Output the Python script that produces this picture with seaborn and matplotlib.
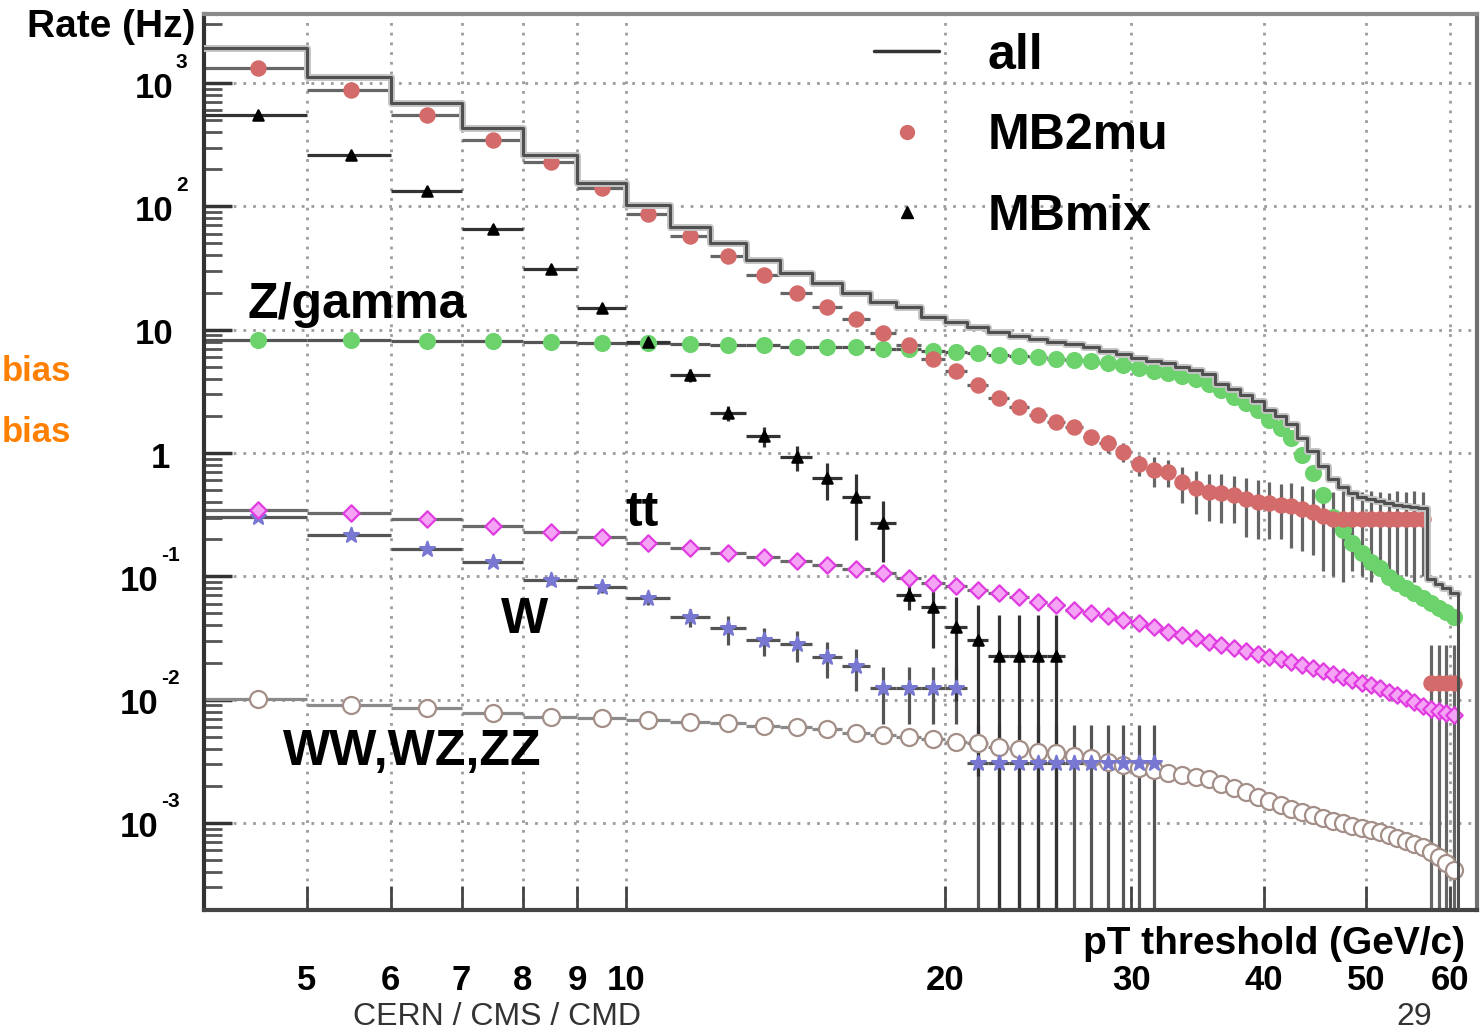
import numpy as np
import pandas as pd
import matplotlib
matplotlib.use("Agg")
import matplotlib.pyplot as plt
import matplotlib.transforms as mtransforms
from matplotlib.lines import Line2D
from matplotlib.ticker import LogLocator, NullLocator
import seaborn as sns

# ===== STYLE =====
sns.set_style("ticks")
plt.rcParams['font.family'] = ['Liberation Sans', 'DejaVu Sans']
plt.rcParams['font.weight'] = 'bold'
plt.rcParams['text.color'] = 'black'
plt.rcParams['xtick.labelcolor'] = 'black'
plt.rcParams['ytick.labelcolor'] = 'black'

# ===== DATA (1 GeV bins, lower edge 4 .. 60) =====
pt_lo = list(range(4, 61))
nan = np.nan

all_rate = [1920, 1120, 690, 431, 261, 155, 103, 68, 50, 36.6,
            28.8, 23.9, 19.8, 16.7, 15.2, 12.6, 11.5, 10.5, 9.57, 8.88,
            8.39, 7.94, 7.64, 7.22, 6.70, 6.34, 5.88, 5.56, 5.36, 4.97,
            4.70, 4.36, 3.60, 3.30, 2.98, 2.65, 2.25, 2.00, 1.72, 1.33,
            1.04, 0.78, 0.62, 0.53, 0.47, 0.44, 0.42, 0.41, 0.39, 0.38,
            0.37, 0.365, 0.36, 0.095, 0.087, 0.080, 0.073]

mb2mu = [1324, 877, 550, 345, 229, 141, 86.7, 57.4, 39.5, 27.7,
         19.8, 15.2, 12.2, 9.38, 7.5, 5.8, 4.61, 3.55, 2.79, 2.36,
         2.03, 1.78, 1.62, 1.35, 1.20, 1.02, 0.81, 0.73, 0.70, 0.58,
         0.52, 0.48, 0.47, 0.46, 0.42, 0.40, 0.39, 0.38, 0.37, 0.35,
         0.33, 0.31, 0.29, 0.29, 0.29, 0.29, 0.29, 0.29, 0.29, 0.29,
         0.29, 0.29, 0.29, 0.0136, 0.0136, 0.0136, 0.0136]
mb2mu_err = [0] * 22 + [0.15, 0.18, 0.20, 0.18, 0.16, 0.20, 0.17, 0.19, 0.20, 0.20,
                        0.20, 0.19, 0.21, 0.20, 0.19, 0.18, 0.20, 0.19, 0.18, 0.20,
                        0.19, 0.20, 0.18, 0.19, 0.20, 0.19, 0.18, 0.20, 0.19, 0.20,
                        0.19, 0.014, 0.014, 0.014, 0.014]

mbmix = [550, 261, 133, 65.5, 31, 15, 7.9, 4.28, 2.11, 1.37,
         0.93, 0.626, 0.438, 0.27, 0.0704, 0.0563, 0.0387, 0.0304, 0.0225, 0.0225,
         0.0225, 0.0225] + [nan] * 35
mbmix_err = [0, 0, 0, 0, 0, 0, 0, 0.5, 0.3, 0.25,
             0.22, 0.21, 0.24, 0.14, 0.017, 0.03, 0.029, 0.028, 0.026, 0.026,
             0.026, 0.026] + [nan] * 35

zgamma = [8.2, 8.2, 8.1, 8.1, 7.9, 7.8, 7.8, 7.6, 7.5, 7.5,
          7.3, 7.2, 7.2, 7.0, 7.0, 6.7, 6.6, 6.46, 6.22, 6.10,
          5.99, 5.78, 5.72, 5.56, 5.36, 5.16, 4.88, 4.61, 4.44, 4.20,
          3.97, 3.65, 3.22, 2.84, 2.54, 2.23, 1.85, 1.59, 1.32, 0.96,
          0.69, 0.456, 0.302, 0.237, 0.186, 0.154, 0.130, 0.117, 0.0986, 0.088,
          0.080, 0.073, 0.0666, 0.0607, 0.0552, 0.0513, 0.0467]

ttbar = [0.344, 0.326, 0.291, 0.255, 0.228, 0.208, 0.186, 0.169, 0.154, 0.143,
         0.133, 0.123, 0.114, 0.106, 0.0967, 0.0881, 0.0832, 0.0772, 0.0731, 0.0678,
         0.0618, 0.0584, 0.0532, 0.0503, 0.0475, 0.0441, 0.0417, 0.0387, 0.0353, 0.0333,
         0.0315, 0.0293, 0.0277, 0.0262, 0.0248, 0.0234, 0.0221, 0.0213, 0.0201, 0.0190,
         0.0180, 0.0170, 0.0161, 0.0152, 0.0144, 0.0136, 0.0131, 0.0124, 0.0115, 0.0109,
         0.0103, 0.00954, 0.00886, 0.00838, 0.00807, 0.00778, 0.00749]

wboson = [0.302, 0.216, 0.166, 0.130, 0.0931, 0.0817, 0.0666, 0.0467, 0.0380, 0.0304,
          0.0282, 0.0221, 0.0187, 0.0124, 0.0124, 0.0124, 0.0124] + [0.00305] * 11 + [nan] * 29
wboson_err = [0.006, 0.006, 0.006, 0.006, 0.008, 0.008, 0.008, 0.008, 0.010, 0.008,
              0.008, 0.007, 0.007, 0.006, 0.006, 0.006, 0.006] + [0.0032] * 11 + [nan] * 29

diboson = [0.0101, 0.00903, 0.00854, 0.00778, 0.00722, 0.00709, 0.00683, 0.00658, 0.00645, 0.00610,
           0.00599, 0.00577, 0.00535, 0.00516, 0.00497, 0.00479, 0.00453, 0.00445, 0.00412, 0.00397,
           0.00375, 0.00368, 0.00348, 0.00336, 0.00311, 0.00294, 0.00278, 0.00268, 0.00253, 0.00244,
           0.00235, 0.00226, 0.00206, 0.00192, 0.00178, 0.00162, 0.00150, 0.00139, 0.00129, 0.00122,
           0.00116, 0.00109, 0.00103, 0.000997, 0.000942, 0.000908, 0.000875, 0.000842, 0.000796, 0.000753,
           0.000712, 0.000673, 0.000636, 0.000580, 0.000528, 0.000472, 0.000414]

xticks = [5, 6, 7, 8, 9, 10, 20, 30, 40, 50, 60]

df = pd.DataFrame({"pt": np.array(pt_lo) + 0.5, "all": all_rate,
                   "MB2mu": mb2mu, "MB2mu_err": mb2mu_err,
                   "MBmix": mbmix, "MBmix_err": mbmix_err,
                   "Zgamma": zgamma, "tt": ttbar,
                   "W": wboson, "W_err": wboson_err, "VV": diboson})

# ===== FIGURE =====
fig = plt.figure(figsize=(14.84, 10.30), dpi=100)
ax = fig.add_axes([204 / 1484, 120 / 1030, 1273 / 1484, 896 / 1030])
ax.set_xscale("log")
ax.set_yscale("log")
ax.set_xlim(4, 63.6)
ax.set_ylim(1.97e-4, 3630)
ax.set_axisbelow(True)

# series: column, error column, marker, size, face, edge, error colour
series = [
    ("VV", None, "o", 150, "white", "#a38f88", "#8a8a8a"),
    ("W", "W_err", "*", 125, "#7878d2", "#7878d2", "#555555"),
    ("tt", None, "D", 70, "#f5a3f5", "#e03ce0", "#6a6a6a"),
    ("Zgamma", None, "o", 115, "#6cd26c", "#6cd26c", "#555555"),
    ("MB2mu", "MB2mu_err", "o", 105, "#d46b6b", "#d46b6b", "#666666"),
    ("MBmix", "MBmix_err", "^", 55, "black", "black", "#333333"),
]
for col, ecol, mk, size, face, edge, errc in series:
    yerr = df[ecol] if ecol else None
    ax.errorbar(df["pt"], df[col], xerr=0.5, yerr=yerr, fmt="none",
                ecolor=errc, elinewidth=2.3, capsize=0, zorder=2)
    sns.scatterplot(x=df["pt"], y=df[col], marker=mk, s=size, color=face,
                    edgecolor=edge, linewidth=1.6, ax=ax, legend=False, zorder=3)

# "all" histogram drawn as a step line
edges = pt_lo + [61]
steps = all_rate + [all_rate[-1]]
sns.lineplot(x=edges, y=steps, drawstyle="steps-post", color="#c4c4c4",
             linewidth=5, ax=ax, zorder=3.5)
sns.lineplot(x=edges, y=steps, drawstyle="steps-post", color="#505050",
             linewidth=2.2, ax=ax, zorder=4)
ax.vlines(edges[-1], ax.get_ylim()[0], all_rate[-1], color="#505050", lw=2.2, zorder=4)

# ===== AXES / GRID =====
ax.grid(True, which="major", color="#9c9c9c", linestyle=(0, (1, 2.5)), linewidth=2)
ax.set_xticks(xticks)
ax.set_xticklabels([str(v) for v in xticks])
ax.xaxis.set_minor_locator(NullLocator())
ax.tick_params(axis="x", which="major", direction="in", length=17, width=2,
               color="#444444", labelcolor="black", pad=39, labelsize=25)
ax.set_yticks([10.0 ** e for e in range(-3, 4)])
ax.set_yticklabels([])
ax.yaxis.set_minor_locator(LogLocator(base=10, subs=np.arange(2, 10)))
ax.tick_params(axis="y", which="major", direction="in", length=20, width=2.5, color="#333333")
ax.tick_params(axis="y", which="minor", direction="in", length=13, width=2, color="#555555")
for side, c in [("left", "#333333"), ("bottom", "#444444"), ("top", "#8a8a8a"), ("right", "#707070")]:
    ax.spines[side].set_color(c)
    ax.spines[side].set_linewidth(3)
ax.set_xlabel("")
ax.set_ylabel("")

# y tick labels in ROOT style (base + raised exponent)
def axfrac(px):
    return (px - 204) / 1273

ytrans = mtransforms.blended_transform_factory(ax.transAxes, ax.transData)
base_tr = mtransforms.offset_copy(ytrans, fig=fig, y=-5, units="dots")
exp_tr = mtransforms.offset_copy(ytrans, fig=fig, y=21, units="dots")
for e in range(-3, 4):
    v = 10.0 ** e
    if e == 0:
        ax.text(axfrac(170), v, "1", transform=base_tr, ha="right", va="center", fontsize=25)
    elif e == 1:
        ax.text(axfrac(173), v, "10", transform=base_tr, ha="right", va="center", fontsize=25)
    else:
        right = 173 if e > 0 else 158
        ax.text(axfrac(right), v, "10", transform=base_tr, ha="right", va="center", fontsize=25)
        ax.text(axfrac(right + 3), v, str(e), transform=exp_tr, ha="left", va="center", fontsize=15)

# ===== LABELS =====
fig.text(195 / 1484, 1 - 27 / 1030, "Rate (Hz)", ha="right", va="center", fontsize=28)
fig.text(1465 / 1484, 1 - 944 / 1030, "pT threshold (GeV/c)", ha="right", va="center", fontsize=28)
fig.text(497 / 1484, 1 - 1017 / 1030, "CERN / CMS / CMD", ha="center", va="center",
         fontsize=23, fontweight="normal", color="#333333")
fig.text(1414 / 1484, 1 - 1017 / 1030, "29", ha="center", va="center",
         fontsize=23, fontweight="normal", color="#333333")
fig.text(2 / 1484, 1 - 372 / 1030, "bias", ha="left", va="center", fontsize=25, color="#ff8000")
fig.text(2 / 1484, 1 - 432 / 1030, "bias", ha="left", va="center", fontsize=25, color="#ff8000")

ax.text(4.4, 15.8, "Z/gamma", fontsize=36, va="center", ha="left")
ax.text(10.0, 0.326, "tt", fontsize=36, va="center", ha="left")
ax.text(7.62, 0.0441, "W", fontsize=36, va="center", ha="left")
ax.text(4.75, 0.00375, "WW,WZ,ZZ", fontsize=36, va="center", ha="left")

handles = [Line2D([], [], color="#333333", lw=2.5),
           Line2D([], [], ls="none", marker="o", color="#d46b6b", ms=10),
           Line2D([], [], ls="none", marker="^", color="black", ms=8)]
ax.legend(handles, ["all", "MB2mu", "MBmix"], loc="upper left",
          bbox_to_anchor=(0.507, 1.007), frameon=False, fontsize=36,
          handlelength=1.3, handletextpad=0.96, labelspacing=0.69, borderpad=0,
          labelcolor="black")

fig.savefig("out.png", dpi=100)
